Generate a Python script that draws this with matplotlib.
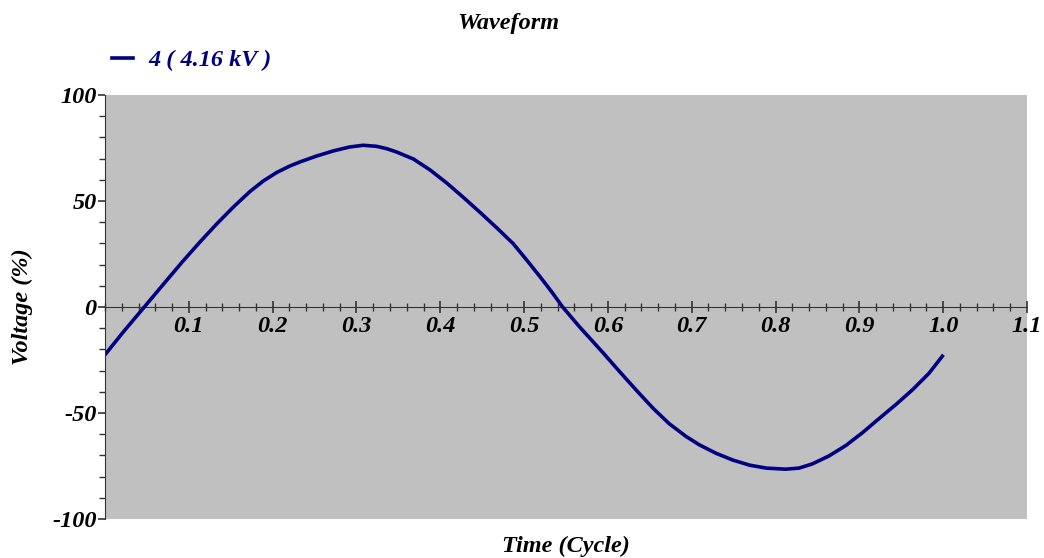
import matplotlib
matplotlib.use("Agg")
import matplotlib.pyplot as plt
from matplotlib.ticker import MultipleLocator, FixedLocator

# waveform samples (time in cycles, voltage in %)
time_cycle = [0.001, 0.023, 0.046, 0.070, 0.092, 0.114, 0.134, 0.154, 0.173,
              0.189, 0.205, 0.221, 0.233, 0.253, 0.273, 0.292, 0.308, 0.324,
              0.336, 0.348, 0.368, 0.388, 0.408, 0.427, 0.447, 0.467, 0.487,
              0.503, 0.519, 0.533, 0.546, 0.566, 0.594, 0.614, 0.634, 0.654,
              0.673, 0.693, 0.709, 0.729, 0.749, 0.769, 0.789, 0.812, 0.828,
              0.844, 0.864, 0.884, 0.904, 0.923, 0.943, 0.963, 0.983, 0.999]
voltage_pct = [-22.0, -11.2, -0.4, 10.9, 21.2, 31.0, 39.5, 47.5, 54.5,
               59.5, 63.5, 66.6, 68.5, 71.3, 73.7, 75.5, 76.3, 75.8,
               74.7, 73.1, 69.8, 64.6, 58.4, 51.9, 44.8, 37.5, 29.9,
               22.2, 14.3, 7.1, 0.0, -9.3, -21.5, -30.5, -39.3, -47.8,
               -55.0, -61.0, -65.0, -69.0, -72.2, -74.6, -76.0, -76.5, -76.0,
               -74.0, -70.2, -65.3, -59.2, -52.8, -46.2, -39.2, -31.3, -23.2]
series_name = "4 ( 4.16 kV )"
x_ticks = [0.1, 0.2, 0.3, 0.4, 0.5, 0.6, 0.7, 0.8, 0.9, 1.0, 1.1]
y_ticks = [-100, -50, 0, 50, 100]

plt.rcParams['axes.unicode_minus'] = False
serif = 'Liberation Serif'
fs = 17.5
lbl = dict(family=serif, weight='bold', style='italic')

fig = plt.figure(figsize=(10.44, 5.58), dpi=100)
ax = fig.add_axes([0.1006, 0.0699, 0.8831, 0.7598])
ax.set_facecolor('#c0c0c0')

line, = ax.plot(time_cycle, voltage_pct, color='#000080', lw=2.6,
                solid_joinstyle='round')

ax.set_xlim(0, 1.1)
ax.set_ylim(-100, 100)

for s in ['top', 'right']:
    ax.spines[s].set_visible(False)
ax.spines['bottom'].set_position(('data', 0))
ax.spines['bottom'].set_color('#333333')
ax.spines['left'].set_color('#333333')
ax.spines['bottom'].set_zorder(1)

ax.xaxis.set_major_locator(FixedLocator(x_ticks))
ax.xaxis.set_minor_locator(MultipleLocator(0.02))
ax.yaxis.set_major_locator(FixedLocator(y_ticks))
ax.yaxis.set_minor_locator(MultipleLocator(10))

ax.tick_params(axis='x', which='major', direction='inout', length=9,
               width=1.2, color='#333333', pad=2)
ax.tick_params(axis='x', which='minor', direction='inout', length=6,
               width=1, color='#333333')
ax.tick_params(axis='y', which='major', direction='out', length=5,
               width=1.2, color='#333333', pad=1)
ax.tick_params(axis='y', which='minor', direction='out', length=4,
               width=1, color='#333333')

ax.set_xticklabels([f"{v:.1f}" for v in x_ticks])
ax.set_yticklabels([str(v) for v in y_ticks])
for t in ax.get_xticklabels() + ax.get_yticklabels():
    t.set_fontfamily(serif)
    t.set_fontweight('bold')
    t.set_fontstyle('italic')
    t.set_fontsize(fs)

ax.set_xlabel("Time (Cycle)", fontsize=fs, **lbl)
ax.xaxis.set_label_coords(0.5, -0.04)
ax.set_ylabel("Voltage (%)", fontsize=fs, **lbl)
ax.yaxis.set_label_coords(-0.078, 0.5)

fig.text(0.487, 0.958, "Waveform", ha='center', va='center', fontsize=fs, **lbl)

leg = ax.legend([line], [series_name], loc='center left',
                bbox_to_anchor=(0.0076, 1.0825), frameon=False,
                handlelength=0.87, handletextpad=0.62, borderaxespad=0,
                borderpad=0,
                prop=dict(family=serif, weight='bold', style='italic', size=fs))
for t in leg.get_texts():
    t.set_color('#000080')

fig.savefig("out.png", dpi=100)
